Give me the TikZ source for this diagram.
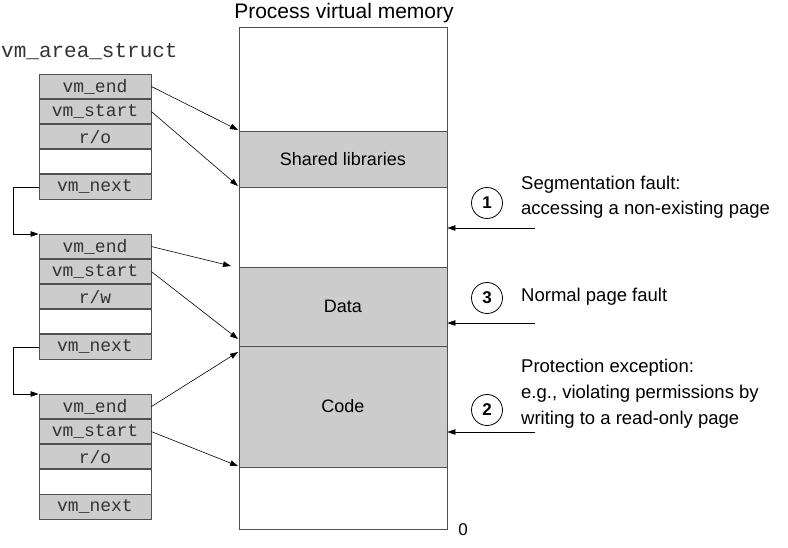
\documentclass[tikz,border=0pt]{standalone}
\usepackage{fontspec}
\setmainfont{Liberation Sans}
\newfontfamily\monofont{Liberation Mono}
\usetikzlibrary{arrows.meta}
\definecolor{boxgray}{RGB}{204,204,204}
\definecolor{edgegray}{RGB}{80,80,80}
\begin{document}
\begin{tikzpicture}[x=1pt,y=-1pt,
  field/.style={draw=edgegray, line width=0.9pt, fill=boxgray, text=black!80, minimum width=112pt, minimum height=24.2pt, inner sep=0pt, anchor=north, font=\monofont\fontsize{18}{20}\selectfont},
  blankfield/.style={field, fill=white},
  region/.style={draw=edgegray, line width=0.9pt, fill=boxgray, minimum width=208pt, inner sep=0pt, font=\fontsize{18}{21}\selectfont},
  arr/.style={-{Triangle[length=8pt,width=5.5pt]}, line width=0.6pt},
  num/.style={draw, circle, line width=0.8pt, minimum size=31pt, inner sep=0pt, font=\bfseries\fontsize{17}{20}\selectfont},
  note/.style={anchor=west, inner sep=0pt, font=\fontsize{18.5}{21}\selectfont}
]
\useasboundingbox (0,0) rectangle (788,548);

% memory
\node[draw=edgegray, line width=0.9pt, minimum width=208pt, minimum height=502pt, inner sep=0pt] (mem) at (343,278) {};
\node[region, minimum height=56pt] (shared) at (343,159) {Shared libraries};
\node[region, minimum height=79pt] (data) at (343,306.5) {Data};
\node[region, minimum height=121pt] (code) at (343,406.5) {Code};
\node[inner sep=0pt, font=\fontsize{21}{24}\selectfont] (title) at (344,13) {Process virtual memory};
\node[inner sep=0pt, font=\fontsize{17}{20}\selectfont] (zero) at (463,530) {0};

% vm_area_struct label
\node[anchor=west, inner sep=0pt, text=black!80, font=\monofont\fontsize{21}{24}\selectfont] (vmas) at (1,52) {vm\_area\_struct};

% struct 1
\node[field] (a1) at (95,74) {vm\_end};
\node[field] (a2) at (a1.south) {vm\_start};
\node[field] (a3) at (a2.south) {r/o};
\node[blankfield] (a4) at (a3.south) {};
\node[field] (a5) at (a4.south) {vm\_next};
% struct 2
\node[field] (b1) at (95,234) {vm\_end};
\node[field] (b2) at (b1.south) {vm\_start};
\node[field] (b3) at (b2.south) {r/w};
\node[blankfield] (b4) at (b3.south) {};
\node[field] (b5) at (b4.south) {vm\_next};
% struct 3
\node[field] (c1) at (95,394) {vm\_end};
\node[field] (c2) at (c1.south) {vm\_start};
\node[field] (c3) at (c2.south) {r/o};
\node[blankfield] (c4) at (c3.south) {};
\node[field] (c5) at (c4.south) {vm\_next};

% list links
\draw[arr, line width=0.7pt] (a5.west) -- ++(-25,0) |- (b1.north west);
\draw[arr, line width=0.7pt] (b5.west) -- ++(-25,0) |- (c1.north west);

% targets
\coordinate (t1) at (238,130);
\coordinate (t2) at (238,186);
\coordinate (t3) at (231,266);
\coordinate (t4) at (238,339);
\coordinate (t5) at (238,352);
\coordinate (t6) at (238,466);
\draw[arr] (a1.east) -- (t1);
\draw[arr] (a2.east) -- (t2);
\draw[arr] (b1.east) -- (t3);
\draw[arr] (b2.east) -- (t4);
\draw[arr] (c1.east) -- (t5);
\draw[arr] (c2.east) -- (t6);

% faults
\node[num] (n1) at (487,203) {1};
\node[num] (n3) at (487,298) {3};
\node[num] (n2) at (487,410) {2};
\node[note] (l1a) at (521,185) {Segmentation fault:};
\node[note] (l1b) at (521,210) {accessing a non-existing page};
\node[note] (l3) at (521,297) {Normal page fault};
\node[note] (l2a) at (521,368) {Protection exception:};
\node[note] (l2b) at (521,394) {e.g., violating permissions by};
\node[note] (l2c) at (521,420) {writing to a read-only page};

\coordinate (f1) at (535,228);
\coordinate (f3) at (535,323);
\coordinate (f2) at (535,432);
\draw[arr] (f1) -- (f1 -| mem.east);
\draw[arr] (f3) -- (f3 -| mem.east);
\draw[arr] (f2) -- (f2 -| mem.east);
\end{tikzpicture}
\end{document}
